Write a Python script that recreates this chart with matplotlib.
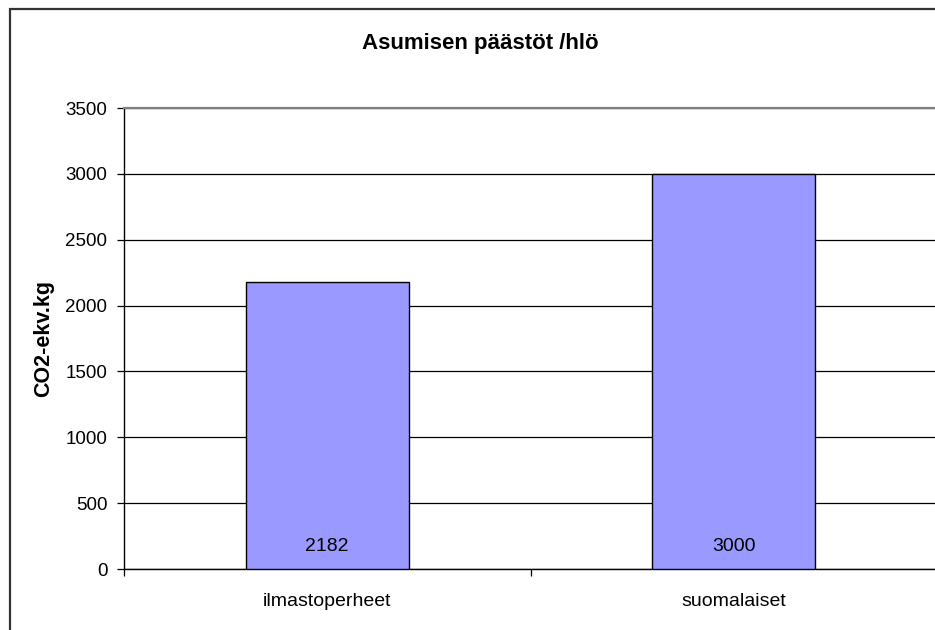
import matplotlib.pyplot as plt
from matplotlib.patches import Rectangle

plt.rcParams['font.family'] = ['Liberation Sans', 'DejaVu Sans']

categories = ['ilmastoperheet', 'suomalaiset']
values = [2182, 3000]
yticks = [0, 500, 1000, 1500, 2000, 2500, 3000, 3500]

fig = plt.figure(figsize=(9.35, 6.3), dpi=100)
ax = fig.add_axes([0.1326, 0.0968, 0.8696, 0.7317])

# outer chart frame (cut off at the right and bottom like the original)
fig.patches.append(Rectangle((0.0107, -0.2), 1.2, 0.9857 + 0.2, transform=fig.transFigure,
                             fill=False, edgecolor='#333333', linewidth=1.6, zorder=0))

x = range(len(categories))
ax.bar(x, values, width=0.4, color='#9999FF', edgecolor='black', linewidth=1.0, zorder=3)

for i, v in enumerate(values):
    ax.annotate(str(v), xy=(i, 0), xytext=(0, 16), textcoords='offset points',
                ha='center', va='center', fontsize=14, zorder=4)

ax.set_xlim(-0.5, len(categories) - 0.5)
ax.set_ylim(0, 3500)
ax.set_yticks(yticks)
ax.yaxis.grid(True, color='black', linewidth=0.9, zorder=0)
ax.set_axisbelow(True)

# category boundaries as major ticks, names on minor ticks
ax.set_xticks([-0.5, 0.5, 1.5])
ax.set_xticklabels([])
ax.set_xticks(list(x), minor=True)
ax.set_xticklabels(categories, minor=True)
ax.tick_params(axis='x', which='major', direction='out', length=5, width=0.9)
ax.tick_params(axis='x', which='minor', length=0, pad=17, labelsize=14)
ax.tick_params(axis='y', direction='out', length=5, width=0.9, pad=7, labelsize=13.5)

for side in ['left', 'bottom']:
    ax.spines[side].set_color('black')
    ax.spines[side].set_linewidth(1.0)
ax.spines['top'].set_color('#808080')
ax.spines['top'].set_linewidth(1.6)
ax.spines['right'].set_visible(False)

ax.set_ylabel('CO2-ekv.kg', fontsize=15.5, fontweight='bold')
ax.yaxis.set_label_coords(-0.086, 0.5)

fig.text(480 / 935, 1 - 44 / 630, 'Asumisen päästöt /hlö', ha='center', va='center',
         fontsize=16, fontweight='bold')

fig.savefig('out.png', dpi=100)
